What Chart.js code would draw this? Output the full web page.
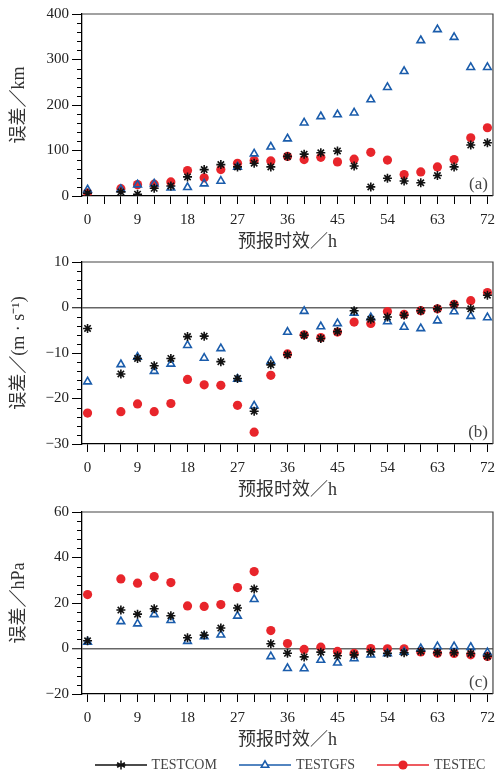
<!DOCTYPE html>
<html>
<head>
<meta charset="utf-8">
<script src="https://cdn.jsdelivr.net/npm/chart.js@4.4.1/dist/chart.umd.min.js"></script>
<style>
  body { margin: 0; background: #fff; }
  #wrap { position: relative; width: 502px; height: 775px; overflow: hidden; }
  .panel { position: absolute; left: 0; width: 502px; height: 253px; }
  #legend { position: absolute; left: 82px; width: 416px; top: 755px; height: 20px;
            display: flex; justify-content: center; align-items: center; gap: 22px;
            font: 14px 'Liberation Serif', serif; color: #444; }
  #legend .item { display: flex; align-items: center; gap: 5px; }
</style>
</head>
<body>
<div id="wrap">
  <div class="panel" style="top:0px"><canvas id="chartA"></canvas></div>
  <div class="panel" style="top:248px"><canvas id="chartB"></canvas></div>
  <div class="panel" style="top:498px"><canvas id="chartC"></canvas></div>
  <div id="legend"></div>
</div>
<script>
// forecast hours (h)
const hours = [0, 6, 9, 12, 15, 18, 21, 24, 27, 30, 33, 36, 39, 42, 45, 48, 51, 54, 57, 60, 63, 66, 69, 72];
const xTicks = [0, 3, 6, 9, 12, 15, 18, 21, 24, 27, 30, 33, 36, 39, 42, 45, 48, 51, 54, 57, 60, 63, 66, 69, 72];
const xLabelEvery = 9;

// (a) track error, km
const trackCOM = [6, 9, 4, 17, 22, 42, 58, 69, 64, 72, 64, 87, 92, 95, 99, 66, 20, 39, 33, 29, 45, 64, 112, 117];
const trackGFS = [14, 15, 25, 27, 18, 19, 27, 33, 64, 93, 108, 126, 161, 175, 179, 183, 212, 239, 274, 342, 366, 349, 283, 283];
const trackEC  = [7, 16, 25, 26, 31, 56, 40, 58, 72, 78, 77, 87, 80, 85, 75, 81, 96, 79, 47, 53, 64, 80, 128, 150];

// (b) wind error, m/s
const windCOM = [-4.6, -14.6, -11.2, -12.8, -11.2, -6.4, -6.3, -11.9, -15.6, -22.8, -12.6, -10.4, -6.1, -6.8, -5.3, -0.7, -2.6, -2.1, -1.7, -0.7, -0.3, 0.6, -0.3, 2.7];
const windGFS = [-16.3, -12.5, -10.9, -14.0, -12.4, -8.3, -11.1, -9.0, -15.7, -21.6, -11.8, -5.4, -0.8, -4.2, -3.5, -1.2, -2.2, -3.1, -4.3, -4.6, -2.9, -0.9, -1.9, -2.2];
const windEC  = [-23.2, -22.9, -21.2, -22.9, -21.1, -15.8, -17.0, -17.1, -21.5, -27.4, -14.9, -10.2, -6.0, -6.6, -5.4, -3.2, -3.5, -0.9, -1.5, -0.7, -0.3, 0.7, 1.5, 3.3];

// (c) pressure error, hPa
const presCOM = [3.4, 16.9, 15.1, 17.5, 14.4, 4.7, 5.9, 9.0, 17.8, 26.2, 2.1, -2.1, -3.7, -1.6, -3.2, -2.8, -1.5, -2.1, -1.9, -1.2, -1.8, -1.8, -2.2, -3.4];
const presGFS = [2.9, 11.9, 10.9, 15.0, 12.4, 3.2, 5.3, 6.0, 14.3, 21.6, -3.5, -8.7, -8.8, -5.1, -6.3, -4.4, -2.8, -2.2, -1.5, 0.0, 0.9, 0.9, 0.6, -1.8];
const presEC  = [23.7, 30.6, 28.7, 31.6, 29.0, 18.7, 18.5, 19.3, 26.8, 33.8, 7.9, 2.2, -0.4, 0.6, -1.3, -2.1, 0.0, -0.1, -0.1, -1.5, -2.1, -2.2, -2.8, -3.5];

const seriesNames = ['TESTCOM', 'TESTGFS', 'TESTEC'];
const seriesColors = ['#111111', '#1a5cab', '#e8252b'];

const serif = "'Liberation Serif', 'Noto Sans CJK SC', serif";
const textColor = '#222';

// 小刻度、边框和分图标记
const panelExtras = {
  id: 'panelExtras',
  afterDraw(chart, args, opts) {
    const { ctx, chartArea: a } = chart;
    const y = chart.scales.y;
    ctx.save();
    ctx.strokeStyle = '#000';
    ctx.lineWidth = 1;
    for (let v = y.min; v <= y.max + 1e-9; v += opts.minor) {
      if (Math.abs(v % opts.major) < 1e-9) continue;
      const py = Math.round(y.getPixelForValue(v)) + 0.5;
      ctx.beginPath();
      ctx.moveTo(a.left - 5, py);
      ctx.lineTo(a.left, py);
      ctx.stroke();
    }
    ctx.strokeStyle = '#444';
    ctx.lineWidth = 1.2;
    ctx.beginPath();
    ctx.moveTo(a.left, a.top);
    ctx.lineTo(a.right, a.top);
    ctx.lineTo(a.right, a.bottom);
    ctx.stroke();
    ctx.fillStyle = '#444';
    ctx.font = "17px " + serif;
    ctx.textAlign = 'right';
    ctx.textBaseline = 'alphabetic';
    ctx.fillText(opts.tag, a.right - 5, a.bottom - 7);
    ctx.restore();
  }
};

function toPoints(vals) {
  return hours.map((h, i) => ({ x: h, y: vals[i] }));
}

function makePanel(id, yTitle, yMin, yMax, yMajor, yMinor, tag, series, zeroLine) {
  const styles = [
    { pointStyle: 'star', pointRadius: 4.5, pointBorderWidth: 1.6, pointBackgroundColor: seriesColors[0] },
    { pointStyle: 'triangle', pointRadius: 4.4, pointBorderWidth: 1.6, pointBackgroundColor: 'rgba(255,255,255,0)' },
    { pointStyle: 'circle', pointRadius: 4.6, pointBorderWidth: 0, pointBackgroundColor: seriesColors[2] }
  ];
  return new Chart(document.getElementById(id), {
    type: 'line',
    data: {
      datasets: series.map((vals, i) => Object.assign({
        label: seriesNames[i],
        data: toPoints(vals),
        showLine: false,
        borderColor: seriesColors[i],
        pointBorderColor: seriesColors[i]
      }, styles[i]))
    },
    options: {
      responsive: true,
      maintainAspectRatio: false,
      animation: false,
      layout: { padding: { top: 14, right: 4, left: 0, bottom: 0 } },
      scales: {
        x: {
          type: 'linear',
          min: -1,
          max: 73,
          afterBuildTicks: s => { s.ticks = xTicks.map(v => ({ value: v })); },
          afterFit: s => { s.height = 57; },
          ticks: {
            autoSkip: false,
            maxRotation: 0,
            padding: 7,
            color: textColor,
            font: { family: serif, size: 15 },
            callback: v => (v % xLabelEvery === 0 ? String(v) : '')
          },
          grid: { drawOnChartArea: false, tickLength: 8, color: '#000', lineWidth: 1 },
          border: { display: true, color: '#000', width: 1.3 },
          title: {
            display: true,
            text: '预报时效／h',
            color: '#333',
            font: { family: serif, size: 18 },
            padding: { top: 0, bottom: 0 }
          }
        },
        y: {
          min: yMin,
          max: yMax,
          afterFit: s => { s.width = 82; },
          ticks: {
            stepSize: yMajor,
            padding: 3,
            color: textColor,
            font: { family: serif, size: 15 },
            callback: v => (v < 0 ? '\u2212' + Math.abs(v) : String(v))
          },
          grid: {
            drawOnChartArea: true,
            tickLength: 10,
            tickColor: '#000',
            color: c => (zeroLine && c.tick && c.tick.value === 0 ? '#666' : 'rgba(0,0,0,0)'),
            lineWidth: c => (zeroLine && c.tick && c.tick.value === 0 ? 1.5 : 1),
            tickWidth: 1
          },
          border: { display: true, color: '#000', width: 1.3 },
          title: {
            display: true,
            text: yTitle,
            color: '#333',
            font: { family: serif, size: 18 },
            padding: { top: 8, bottom: 0 }
          }
        }
      },
      plugins: {
        legend: { display: false },
        tooltip: { enabled: false },
        panelExtras: { minor: yMinor, major: yMajor, tag: tag }
      }
    },
    plugins: [panelExtras]
  });
}

makePanel('chartA', '误差／km', 0, 400, 100, 20, '(a)', [trackCOM, trackGFS, trackEC], false);
makePanel('chartB', '误差／(m · s\u207B\u00B9)', -30, 10, 10, 2, '(b)', [windCOM, windGFS, windEC], true);
makePanel('chartC', '误差／hPa', -20, 60, 20, 4, '(c)', [presCOM, presGFS, presEC], true);

// 图例
const icons = [
  '<path d="M26 3.5v9M22.1 5.75l7.8 4.5M22.1 10.25l7.8-4.5M21.5 8h9" stroke="#111" stroke-width="1.5"/>',
  '<path d="M26 3.8l3.7 6.4h-7.4z" fill="#fff" stroke="#1a5cab" stroke-width="1.6"/>',
  '<circle cx="26" cy="8" r="4.6" fill="#e8252b"/>'
];
const legend = document.getElementById('legend');
seriesNames.forEach((name, i) => {
  const item = document.createElement('div');
  item.className = 'item';
  item.innerHTML = '<svg width="52" height="16" viewBox="0 0 52 16">' +
    '<line x1="0" y1="8" x2="52" y2="8" stroke="' + seriesColors[i] + '" stroke-width="1.5"/>' +
    icons[i] + '</svg><span>' + name + '</span>';
  legend.appendChild(item);
});
</script>
</body>
</html>
